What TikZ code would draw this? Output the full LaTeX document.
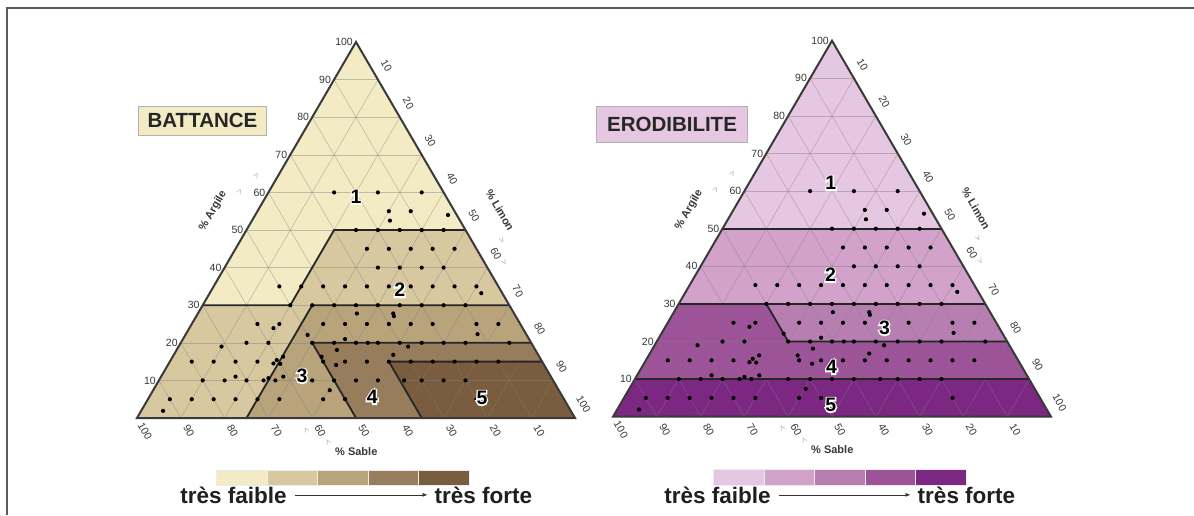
\documentclass[tikz,border=0pt]{standalone}
\usepackage{fontspec}
\setmainfont{Liberation Sans}
\newfontfamily\halofont[FakeBold=14]{Liberation Sans Bold}
\newcommand\halo[1]{\rlap{\textcolor{white}{\halofont #1}}#1}
\usetikzlibrary{arrows.meta}

\definecolor{bA}{HTML}{F3EBC4}
\definecolor{bB}{HTML}{D8C8A0}
\definecolor{bC}{HTML}{B8A37B}
\definecolor{bD}{HTML}{987D5C}
\definecolor{bE}{HTML}{7A5C3E}
\definecolor{eA}{HTML}{E6C7E1}
\definecolor{eB}{HTML}{D2A2CB}
\definecolor{eC}{HTML}{B77FB1}
\definecolor{eD}{HTML}{9C5398}
\definecolor{eE}{HTML}{7C2782}
\definecolor{edgec}{HTML}{3A3A3A}
\definecolor{tickc}{HTML}{383838}

\tikzset{
 tern/.style={shift={(137,418)}, x={(4.38pt,0pt)}, y={(2.19pt,3.76pt)}},
 gridline/.style={draw=gray, draw opacity=0.45, line width=0.6pt},
 outline/.style={draw=edgec, line width=2pt, line join=miter},
 zone/.style={draw=black!85, line width=1.8pt, line join=miter},
 tickl/.style={font=\fontsize{10.5}{10.5}\selectfont, text=tickc, inner sep=0pt},
 axtitle/.style={font=\fontsize{11}{11}\selectfont\bfseries, text=tickc, inner sep=0pt},
 chev/.style={font=\fontsize{9}{9}\selectfont, text=gray!60, inner sep=0pt},
 reglabel/.style={font=\fontsize{19.5}{19.5}\selectfont\bfseries, inner sep=0pt},
 titlebox/.style={font=\fontsize{20.5}{21}\selectfont\bfseries, text=black!85, draw=gray!60, line width=0.8pt, inner sep=0pt},
 legtext/.style={font=\fontsize{22.5}{23}\selectfont\bfseries, text=black!88, inner sep=0pt, anchor=base},
 legarrow/.style={-{Latex[length=5pt,width=4pt]}, line width=0.7pt, draw=black!80},
 legbox/.style={draw=white!85!gray, line width=0.6pt},
 framel/.style={draw=black!65, line width=2pt},
}

\newcommand\dotdata{15/60,25/60,35/60,30/55,35/55,44/54,31.5/52.5,
25/50,30/50,35/50,40/50,45/50,
30/45,35/45,40/45,45/45,50/45,
35/40,40/40,45/40,50/40,
15/35,20/35,25/35,30/35,35/35,40/35,45/35,50/35,55/35,60/35,62/33.2,
20/30,25/30,30/30,35/30,40/30,45/30,50/30,55/30,60/30,
36.3/27.8,44.6/27.8,45.1/27.1,
15/25,19.2/23.9,20/25,27.9/22.1,30/25,35/25,40/25,45/25,50/25,55/25,65/25,70/25,66.6/22.3,
9.8/19,15/20,20/20,30/20,35/20,37/21,40/20,42.7/20,45/20,50/20,52.4/19,55/20,60/20,65/20,75/20,36.6/18.1,50.1/16.8,
5/15,10/15,15/15,20/15,23.9/14.5,25.2/16.3,24.2/15.4,25.5/14.4,35/15,38.4/14.1,40/15,45/15,50/15,55/15,60/15,65/15,70/15,75/15,34/16.3,
10/10,15/10,17/11,20/10,23.9/10,24.7/10.6,26.6/10,27.9/11,35/10,40/10,45/10,50/10,56/10,60/10,65/10,70/10,40.3/7.4,
5/5,10/5,15/5,20/5,25/5,30/5,40/5,45/5,75/5,5/1.9}

% grid lines of a ternary diagram
\newcommand\terngrid{%
 \begin{scope}[tern]
  \foreach \k in {10,20,...,90}{
   \draw[gridline] (0,\k) -- (100-\k,\k);
   \draw[gridline] (\k,0) -- (\k,100-\k);
   \draw[gridline] (100-\k,0) -- (0,100-\k);
  }
 \end{scope}}

% outline, ticks, titles and dots; #1 = name prefix
\newcommand\ternrest[1]{%
 \begin{scope}[tern]
  \draw[outline] (0,0) -- (100,0) -- (0,100) -- cycle;
  \foreach \k in {10,20,...,100}{
   \node[tickl, anchor=east, xshift=-3pt] (#1clay\k) at (0,\k) {\k};
   \node[tickl, xshift=8.5pt, yshift=14pt, rotate=-60] (#1silt\k) at (\k,100-\k) {\k};
   \node[tickl, xshift=8pt, yshift=-13pt, rotate=-60] (#1sand\k) at (100-\k,0) {\k};
  }
  \foreach \s/\c in \dotdata { \fill[black] (\s,\c) circle (2.1pt); }
 \end{scope}
 \node[axtitle, rotate=60] (#1targ) at (213,211) {\% Argile};
 \node[chev, rotate=60] (#1ca1) at (240,191.5) {>};
 \node[chev, rotate=60] (#1ca2) at (256.7,175.7) {>};
 \node[axtitle, rotate=-60] (#1tlim) at (500,210) {\% Limon};
 \node[chev, rotate=-60] (#1cl1) at (501.7,240) {>};
 \node[chev, rotate=-60] (#1cl2) at (504,262.7) {>};
 \node[axtitle] (#1tsab) at (356.3,451.3) {\% Sable};
 \node[chev, rotate=-60] (#1cs1) at (306,430) {<};
 \node[chev, rotate=-60] (#1cs2) at (328,442) {<};
}

\begin{document}
\begin{tikzpicture}[x=1pt,y=-1pt]
\useasboundingbox (0,0) rectangle (1194,515);
\fill[white] (0,0) rectangle (1194,515);
\draw[framel] (7,515) -- (7,7.5) -- (1194,7.5);

% ================= BATTANCE =================
\begin{scope}[tern]
 \fill[bB] (0,0) -- (100,0) -- (0,100) -- cycle;
 \fill[bA] (0,100) -- (0,30) -- (20,30) -- (20,50) -- (50,50) -- cycle;
 \fill[bC] (25,0) -- (25,30) -- (70,30) -- (100,0) -- cycle;
 \fill[bD] (50,0) -- (30,20) -- (80,20) -- (100,0) -- cycle;
 \fill[bE] (65,0) -- (50,15) -- (85,15) -- (100,0) -- cycle;
\end{scope}
\terngrid
\begin{scope}[tern]
 \draw[zone] (0,30) -- (20,30) -- (20,50) -- (50,50);
 \draw[zone] (25,0) -- (25,30) -- (70,30);
 \draw[zone] (50,0) -- (30,20) -- (80,20);
 \draw[zone] (65,0) -- (50,15) -- (85,15);
\end{scope}
\ternrest{L}
\begin{scope}[tern]
 \node[reglabel] (L1) at (20.6,58.8) {\halo{1}};
 \node[reglabel] (L2) at (43.0,34.0) {\halo{2}};
 \node[reglabel] (L3) at (32.1,11.2) {\halo{3}};
 \node[reglabel] (L4) at (50.9,5.6) {\halo{4}};
 \node[reglabel] (L5) at (76.1,5.3) {\halo{5}};
\end{scope}
\node[titlebox, fill=bA, minimum width=128.4pt, minimum height=28.3pt] (tbat) at (202.5,120.9) {BATTANCE};

% legend left
\foreach \i/\c in {0/bA,1/bB,2/bC,3/bD,4/bE}{
 \filldraw[legbox, fill=\c] (216.7+50.5*\i,470) rectangle (216.7+50.5*\i+50.5,485.7);
}
\node[legtext] (lfa) at (233.5,503) {très faible};
\node[legtext] (lfo) at (483.5,503) {très forte};
\draw[legarrow] ([xshift=8pt]lfa.east) -- ([xshift=-7pt]lfo.west);

% ================= ERODIBILITE =================
\begin{scope}[shift={(476,-1.3)}]
 \begin{scope}[tern]
  \fill[eA] (0,50) -- (50,50) -- (0,100) -- cycle;
  \fill[eB] (0,30) -- (70,30) -- (50,50) -- (0,50) -- cycle;
  \fill[eD] (0,10) -- (90,10) -- (70,30) -- (0,30) -- cycle;
  \fill[eC] (20,30) -- (70,30) -- (80,20) -- (30,20) -- cycle;
  \fill[eE] (0,0) -- (100,0) -- (90,10) -- (0,10) -- cycle;
 \end{scope}
 \terngrid
 \begin{scope}[tern]
  \draw[zone] (0,50) -- (50,50);
  \draw[zone] (0,30) -- (70,30);
  \draw[zone] (20,30) -- (30,20) -- (80,20);
  \draw[zone] (0,10) -- (90,10);
 \end{scope}
 \ternrest{R}
 \begin{scope}[tern]
  \node[reglabel] (R1) at (18.7,62.1) {\halo{1}};
  \node[reglabel] (R2) at (30.8,37.7) {\halo{2}};
  \node[reglabel] (R3) at (50.2,23.6) {\halo{3}};
  \node[reglabel] (R4) at (43.3,13.2) {\halo{4}};
  \node[reglabel] (R5) at (48.2,3.1) {\halo{5}};
 \end{scope}
\end{scope}
\node[titlebox, fill=eA, minimum width=150.6pt, minimum height=36.7pt] (tero) at (672,124.4) {ERODIBILITE};

% legend right
\foreach \i/\c in {0/eA,1/eB,2/eC,3/eD,4/eE}{
 \filldraw[legbox, fill=\c] (713.3+50.5*\i,469.3) rectangle (713.3+50.5*\i+50.5,485);
}
\node[legtext] (rfa) at (717.5,503) {très faible};
\node[legtext] (rfo) at (966.5,503) {très forte};
\draw[legarrow] ([xshift=8pt]rfa.east) -- ([xshift=-7pt]rfo.west);
\end{tikzpicture}
\end{document}
